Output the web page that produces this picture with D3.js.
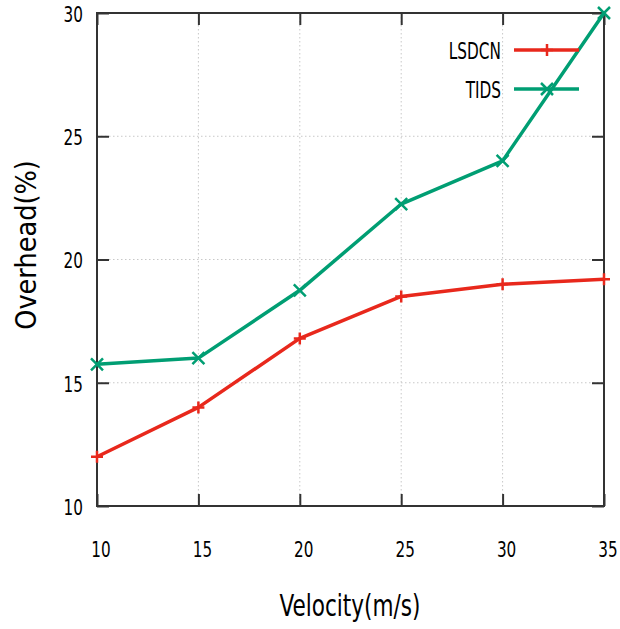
<!DOCTYPE html>
<html>
<head>
<meta charset="utf-8">
<script src="https://cdn.jsdelivr.net/npm/d3@7"></script>
<style>
  body { margin: 0; background: #fff; }
  text { font-family: 'DejaVu Sans Condensed', 'DejaVu Sans', sans-serif; fill: #000; }
</style>
</head>
<body>
<script>
var velocity = [10, 15, 20, 25, 30, 35]
var lsdcn = [12.0, 14.0, 16.8, 18.5, 19.0, 19.2]
var tids = [15.75, 16.0, 18.75, 22.25, 24.0, 30.0]
var xTicks = [10, 15, 20, 25, 30, 35]
var yTicks = [10, 15, 20, 25, 30]

var width = 620
var height = 629
var margin = { left: 97, right: 16, top: 13, bottom: 123 }

var svg = d3.select('body').append('svg')
    .attr('width', width)
    .attr('height', height)

var x = d3.scaleLinear().domain([10, 35]).range([margin.left, width - margin.right])
var y = d3.scaleLinear().domain([10, 30]).range([height - margin.bottom, margin.top])

// squeezed text, like the stretched-down gnuplot output
function label(parent, px, py, str, size, anchor, sx) {
    return parent.append('g')
        .attr('transform', 'translate(' + px + ',' + py + ') scale(' + sx + ',1)')
        .append('text')
        .attr('text-anchor', anchor)
        .attr('dy', '0.36em')
        .attr('font-size', size)
        .text(str)
}

// dotted grid
var grid = svg.append('g').attr('stroke', '#c8c8c8').attr('stroke-width', 1).attr('stroke-dasharray', '1.5,2.5')
grid.selectAll('.gx').data(xTicks.slice(1, -1)).enter().append('line')
    .attr('x1', function (d) { return x(d) }).attr('x2', function (d) { return x(d) })
    .attr('y1', y(30)).attr('y2', y(10))
grid.selectAll('.gy').data(yTicks.slice(1, -1)).enter().append('line')
    .attr('y1', function (d) { return y(d) }).attr('y2', function (d) { return y(d) })
    .attr('x1', x(10)).attr('x2', x(35))

// axes with inward ticks on all sides
var tickLen = 12
var axisColor = '#333'
function styleAxis(g) {
    g.select('.domain').remove()
    g.selectAll('.tick line').attr('stroke', axisColor).attr('stroke-width', 2)
    g.selectAll('.tick text').remove()
}
svg.append('g').attr('transform', 'translate(0,' + y(10) + ')')
    .call(d3.axisBottom(x).tickValues(xTicks).tickSizeInner(-tickLen).tickSizeOuter(0))
    .call(styleAxis)
svg.append('g').attr('transform', 'translate(0,' + y(30) + ')')
    .call(d3.axisTop(x).tickValues(xTicks).tickSizeInner(-tickLen).tickSizeOuter(0))
    .call(styleAxis)
svg.append('g').attr('transform', 'translate(' + x(10) + ',0)')
    .call(d3.axisLeft(y).tickValues(yTicks).tickSizeInner(-tickLen).tickSizeOuter(0))
    .call(styleAxis)
svg.append('g').attr('transform', 'translate(' + x(35) + ',0)')
    .call(d3.axisRight(y).tickValues(yTicks).tickSizeInner(-tickLen).tickSizeOuter(0))
    .call(styleAxis)

var tickLabels = svg.append('g')
xTicks.forEach(function (t) {
    label(tickLabels, x(t) + 4, y(10) + 43, t, 22, 'middle', 0.77)
})
yTicks.forEach(function (t) {
    label(tickLabels, x(10) - 14, y(t) + 1, t, 22, 'end', 0.77)
})

// border
svg.append('rect')
    .attr('x', x(10)).attr('y', y(30))
    .attr('width', x(35) - x(10)).attr('height', y(10) - y(30))
    .attr('fill', 'none').attr('stroke', axisColor).attr('stroke-width', 2)

var series = [
    { name: 'LSDCN', values: lsdcn, color: '#e8281c', marker: 'plus' },
    { name: 'TIDS', values: tids, color: '#009e73', marker: 'cross' }
]

var line = d3.line()
    .x(function (d, i) { return x(velocity[i]) })
    .y(function (d) { return y(d) })

function drawMarker(g, cx, cy, type, color) {
    var s = 6
    var path = type === 'plus'
        ? 'M' + (cx - s) + ',' + cy + 'H' + (cx + s) + 'M' + cx + ',' + (cy - s) + 'V' + (cy + s)
        : 'M' + (cx - s) + ',' + (cy - s) + 'L' + (cx + s) + ',' + (cy + s) + 'M' + (cx - s) + ',' + (cy + s) + 'L' + (cx + s) + ',' + (cy - s)
    g.append('path').attr('d', path).attr('stroke', color).attr('stroke-width', 2.5).attr('fill', 'none')
}

series.forEach(function (s) {
    svg.append('path')
        .datum(s.values)
        .attr('d', line)
        .attr('fill', 'none')
        .attr('stroke', s.color)
        .attr('stroke-width', 3.5)
        .attr('stroke-linejoin', 'round')
    var mg = svg.append('g')
    s.values.forEach(function (v, i) {
        drawMarker(mg, x(velocity[i]), y(v), s.marker, s.color)
    })
})

// legend
var legend = svg.append('g')
series.forEach(function (s, i) {
    var ly = 50 + i * 39
    label(legend, 501, ly + 1, s.name, 23, 'end', 0.74)
    legend.append('line')
        .attr('x1', 514).attr('x2', 579).attr('y1', ly).attr('y2', ly)
        .attr('stroke', s.color).attr('stroke-width', 3.5)
    drawMarker(legend, 547, ly, s.marker, s.color)
})

// axis titles
label(svg, 350, 605, 'Velocity(m/s)', 30, 'middle', 0.8)
svg.append('text')
    .attr('transform', 'translate(36,245) rotate(-90)')
    .attr('text-anchor', 'middle').attr('font-size', 28.5)
    .attr('font-family', "'DejaVu Sans', sans-serif")
    .text('Overhead(%)')
</script>
</body>
</html>
